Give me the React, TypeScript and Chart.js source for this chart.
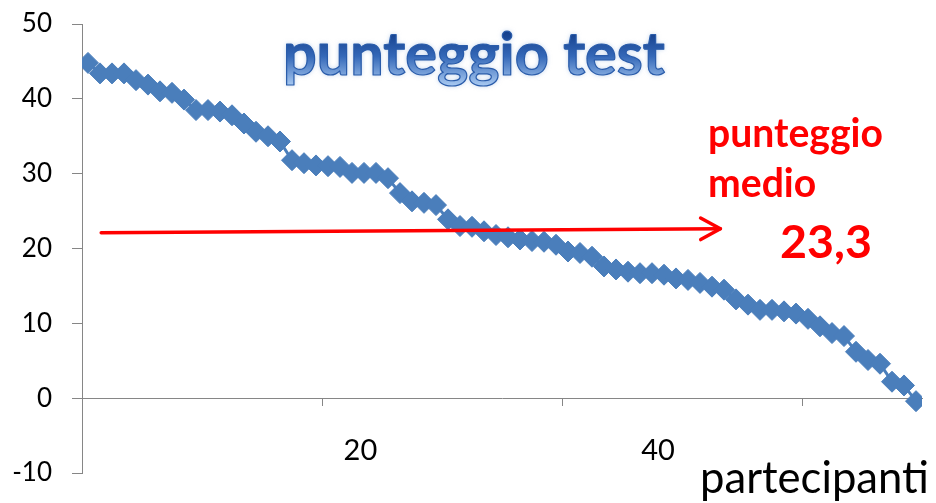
import React, { useEffect, useRef } from 'react';
import { Chart, registerables } from 'chart.js';

Chart.register(...registerables);

// ---- data ----
const SCORES = [
  44.8, 43.4, 43.4, 43.4, 42.5, 41.9, 41.0, 40.8, 39.9, 38.5,
  38.5, 38.3, 37.8, 36.7, 35.6, 35.0, 34.3, 31.8, 31.4, 31.1,
  31.0, 30.9, 30.1, 30.1, 30.1, 29.4, 27.4, 26.3, 26.1, 25.8,
  23.9, 23.0, 22.9, 22.3, 21.8, 21.5, 21.2, 21.0, 20.9, 20.5,
  19.6, 19.4, 18.9, 17.6, 17.2, 16.9, 16.7, 16.7, 16.5, 16.0,
  15.8, 15.4, 14.9, 14.5, 13.2, 12.5, 11.8, 11.8, 11.6, 11.3,
  10.6, 9.6, 8.7, 8.3, 6.2, 5.1, 4.6, 2.2, 1.7, -0.4,
];
const Y_MIN = -10;
const Y_MAX = 50;
const Y_STEP = 10;
const X_TICK_LABELS = ['20', '40'];
const X_LABEL_AT = [23.7, 48.5];
const X_TICK_MARKS = [20.5, 40.5, 60.5];
const X_MIN = 0.5;
const X_MAX = 70.5;

const TITLE = 'punteggio test';
const X_TITLE = 'partecipanti';
const MEAN_LINES = ['punteggio', 'medio'];
const MEAN_VALUE = '23,3';
const ARROW_FROM = { x: 2.1, y: 22.1 };
const ARROW_TO = { x: 53.7, y: 22.65 };

const FONT = 'Lato, "Open Sans", sans-serif';
const BLUE = '#4A7EBB';
const AXIS = '#868686';

function fitSize(ctx: CanvasRenderingContext2D, text: string, weight: string, width: number) {
  ctx.font = `${weight} 100px ${FONT}`;
  const w = ctx.measureText(text).width;
  return (100 * width) / w;
}

const annotations = {
  id: 'annotations',
  afterDraw(chart: any) {
    const ctx: CanvasRenderingContext2D = chart.ctx;
    const xs = chart.scales.x;
    const ys = chart.scales.y;
    ctx.save();

    // arrow
    const x1 = xs.getPixelForValue(ARROW_FROM.x);
    const y1 = ys.getPixelForValue(ARROW_FROM.y);
    const x2 = xs.getPixelForValue(ARROW_TO.x);
    const y2 = ys.getPixelForValue(ARROW_TO.y);
    ctx.strokeStyle = '#FF0000';
    ctx.lineWidth = 3.5;
    ctx.lineCap = 'round';
    ctx.lineJoin = 'round';
    ctx.beginPath();
    ctx.moveTo(x1, y1);
    ctx.lineTo(x2, y2);
    ctx.stroke();
    const ang = Math.atan2(y2 - y1, x2 - x1);
    const hl = 22.5;
    const ha = 0.5;
    ctx.beginPath();
    ctx.moveTo(x2 - hl * Math.cos(ang - ha), y2 - hl * Math.sin(ang - ha));
    ctx.lineTo(x2, y2);
    ctx.lineTo(x2 - hl * Math.cos(ang + ha), y2 - hl * Math.sin(ang + ha));
    ctx.stroke();

    // mean label
    ctx.fillStyle = '#FF0000';
    ctx.textAlign = 'left';
    ctx.textBaseline = 'alphabetic';
    const ms = fitSize(ctx, MEAN_LINES[0], 'bold', 175);
    ctx.font = `bold ${ms}px ${FONT}`;
    ctx.fillText(MEAN_LINES[0], 708, 147);
    ctx.fillText(MEAN_LINES[1], 708, 197);
    const vs = fitSize(ctx, MEAN_VALUE, 'bold', 92);
    ctx.font = `bold ${vs}px ${FONT}`;
    ctx.fillText(MEAN_VALUE, 780, 258);

    // axis title
    ctx.fillStyle = '#000000';
    const ts = fitSize(ctx, X_TITLE, 'normal', 229);
    ctx.font = `normal ${ts}px ${FONT}`;
    ctx.fillText(X_TITLE, 700, 493);

    // chart title with gradient
    const hs = fitSize(ctx, TITLE, 'bold', 382);
    ctx.font = `bold ${hs}px ${FONT}`;
    ctx.textAlign = 'center';
    const grad = ctx.createLinearGradient(0, 32, 0, 86);
    grad.addColorStop(0, '#143F8C');
    grad.addColorStop(0.45, '#3468B8');
    grad.addColorStop(1, '#A9CAF2');
    ctx.shadowColor = 'rgba(120,160,215,0.55)';
    ctx.shadowBlur = 5;
    ctx.fillStyle = grad;
    ctx.fillText(TITLE, 474, 75);
    ctx.shadowBlur = 0;
    ctx.shadowColor = 'transparent';
    ctx.strokeStyle = '#2A5CAA';
    ctx.lineWidth = 1.2;
    ctx.strokeText(TITLE, 474, 75);

    ctx.restore();
  },
};

export default function App() {
  const ref = useRef<HTMLCanvasElement | null>(null);

  useEffect(() => {
    document.body.style.margin = '0';
    const canvas = ref.current;
    if (!canvas) return;
    const chart = new Chart(canvas, {
      type: 'line',
      data: {
        datasets: [
          {
            data: SCORES.map((v, i) => ({ x: i + 1, y: v })),
            borderColor: BLUE,
            backgroundColor: BLUE,
            borderWidth: 3,
            pointStyle: 'rectRot',
            pointRadius: 10.5,
            pointBorderWidth: 1,
            pointBorderColor: BLUE,
            pointBackgroundColor: BLUE,
            tension: 0,
            xAxisID: 'x',
            yAxisID: 'y',
          },
        ],
      },
      options: {
        responsive: false,
        animation: false,
        devicePixelRatio: 1,
        layout: { padding: { left: 0, right: 14, top: 24, bottom: 30 } },
        plugins: {
          legend: { display: false },
          tooltip: { enabled: false },
          title: { display: false },
        },
        scales: {
          x: {
            type: 'linear',
            axis: 'x',
            min: X_MIN,
            max: X_MAX,
            position: { y: 0 } as any,
            grid: { display: false, drawTicks: false },
            border: { display: false },
            afterBuildTicks: (s: any) => {
              s.ticks = X_LABEL_AT.map((v) => ({ value: v }));
            },
            afterFit: (s: any) => {
              s.height = 0;
              s.paddingLeft = 0;
              s.paddingRight = 0;
            },
            ticks: {
              autoSkip: false,
              maxRotation: 0,
              padding: 35,
              color: '#000000',
              font: { family: FONT, size: 29 },
              callback: (_v: any, i: number) => X_TICK_LABELS[i],
            },
          },
          x2: {
            type: 'linear',
            axis: 'x',
            min: X_MIN,
            max: X_MAX,
            position: { y: 0 } as any,
            grid: {
              display: true,
              drawOnChartArea: false,
              drawTicks: true,
              tickLength: 7,
              color: AXIS,
              lineWidth: 1,
            },
            border: { display: true, color: AXIS, width: 1 },
            afterBuildTicks: (s: any) => {
              s.ticks = X_TICK_MARKS.map((v) => ({ value: v }));
            },
            afterFit: (s: any) => {
              s.height = 0;
              s.paddingLeft = 0;
              s.paddingRight = 0;
            },
            ticks: { display: false },
          },
          y: {
            type: 'linear',
            min: Y_MIN,
            max: Y_MAX,
            afterFit: (s: any) => {
              s.width = 82;
              s.paddingTop = 0;
              s.paddingBottom = 0;
            },
            grid: {
              drawOnChartArea: false,
              drawTicks: true,
              tickLength: 10,
              color: AXIS,
              lineWidth: 1,
            },
            border: { display: true, color: AXIS, width: 1 },
            ticks: {
              stepSize: Y_STEP,
              padding: 20,
              color: '#000000',
              font: { family: FONT, size: 26 },
            },
          },
        },
      },
      plugins: [annotations],
    });
    return () => chart.destroy();
  }, []);

  return (
    <div style={{ width: 936, height: 503, position: 'relative', background: '#fff' }}>
      <canvas ref={ref} width={936} height={503} style={{ display: 'block' }} />
    </div>
  );
}
